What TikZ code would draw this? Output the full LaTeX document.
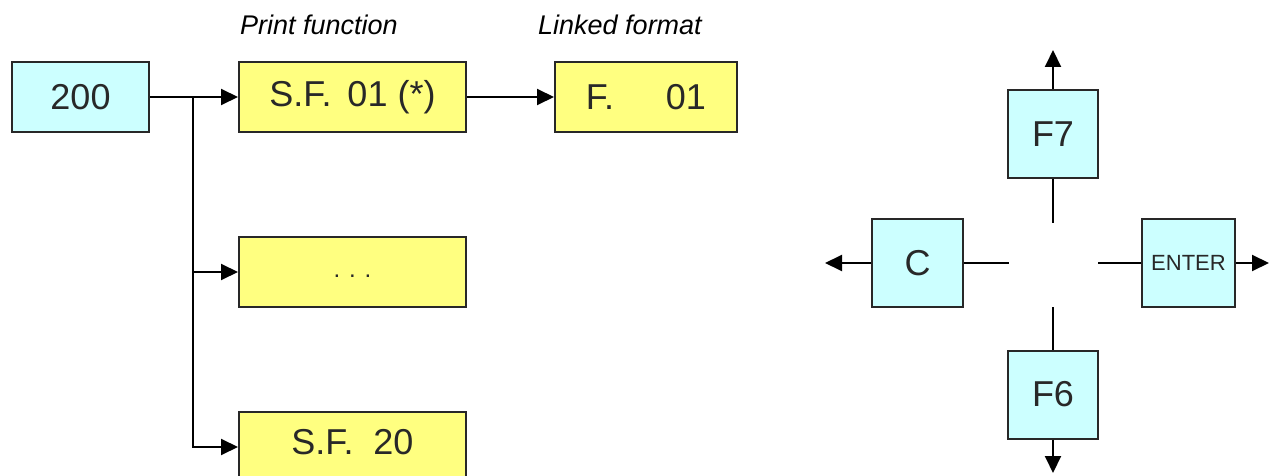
\documentclass[tikz,border=0pt]{standalone}
\usepackage{fontspec}
\setmainfont{Liberation Sans}
\usetikzlibrary{arrows.meta}
\definecolor{keycyan}{RGB}{204,255,255}
\definecolor{fnyellow}{RGB}{255,255,128}
\definecolor{edgegray}{RGB}{40,40,40}

\begin{document}
\begin{tikzpicture}[x=0.5pt, y=-0.5pt, >={Triangle[length=8.5pt, width=8pt]}, line width=1pt,
  keybox/.style={draw=edgegray, fill=keycyan, inner sep=0pt, text=edgegray,
    font=\fontsize{18}{20}\selectfont},
  fnbox/.style={draw=edgegray, fill=fnyellow, inner sep=0pt, text=edgegray,
    minimum width=113.5pt, minimum height=35pt, font=\fontsize{18}{20}\selectfont},
  caption/.style={font=\fontsize{13.5}{16}\selectfont\itshape}]
  \clip (0,0) rectangle (1270,476);
  % ---------------- (a) menu 200 and its print functions ----------------
  \node[keybox, minimum width=68.5pt, minimum height=35pt] (box200) at (80.5,97) {200};
  \foreach \n/\y/\lab in {sfa/97/{S.F.\hspace{8pt}01 (*)}, sfb/272/{},
                          sfc/447/{\raisebox{5pt}{S.F.\hspace{10pt}20}}}
    \node[fnbox] (\n) at (352.5,\y) {\lab};
  \node[font=\fontsize{12}{14}\selectfont, text=edgegray] (dots) at (352.5,276) {. . .};
  \node[fnbox, minimum width=91pt] (fmt) at (646,97) {F.\hspace{26pt}01};
  \node[caption] (capprint) at (319,25) {Print function};
  \node[caption] (caplink) at (620,25) {Linked format};
  \coordinate (trunk) at (193,97);
  \draw[->] (box200) -- (sfa);
  \draw[->] (sfa) -- (fmt);
  \draw[->] (trunk) |- (sfb);
  \draw[->] (trunk) |- (sfc);
  % ---------------- (b) navigation keys ----------------
  \node[keybox, minimum width=45pt, minimum height=44pt] (keyF7) at (1053,134) {F7};
  \node[keybox, minimum width=45pt, minimum height=44pt] (keyF6) at (1053,394.5) {F6};
  \node[keybox, minimum width=45.5pt, minimum height=44pt] (keyC) at (917.5,263) {C};
  \node[keybox, minimum width=46.5pt, minimum height=44pt, font=\fontsize{11}{13}\selectfont]
    (keyEnter) at (1188.5,263) {ENTER};
  \coordinate (up) at (1053,50);
  \coordinate (down) at (1053,473);
  \coordinate (west) at (825,263);
  \coordinate (east) at (1269,263);
  \coordinate (hubN) at (1053,223);
  \coordinate (hubS) at (1053,307);
  \coordinate (hubW) at (1009,263);
  \coordinate (hubE) at (1098,263);
  \draw[->] (keyF7) -- (up);
  \draw[->] (keyF6) -- (down);
  \draw[->] (keyC) -- (west);
  \draw[->] (keyEnter) -- (east);
  \draw (keyF7) -- (hubN);
  \draw (keyF6) -- (hubS);
  \draw (keyC) -- (hubW);
  \draw (keyEnter) -- (hubE);
\end{tikzpicture}
\end{document}
